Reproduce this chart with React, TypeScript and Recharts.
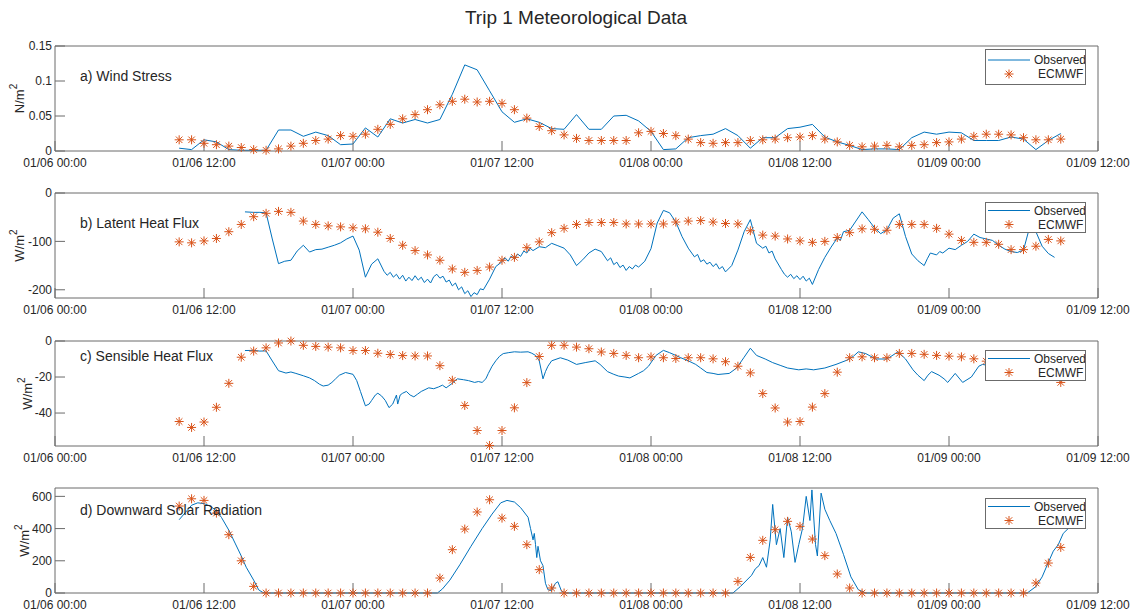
import React from "react";
import { ComposedChart, Line, Scatter, XAxis, YAxis, Legend } from "recharts";

const BLUE = "#0072BD";
const ORANGE = "#D95319";
const AXIS = "#6b6b6b";
const TEXT = "#262626";
const FONT = "'Liberation Sans', Arial, Helvetica, sans-serif";

const xTicks = [0, 12, 24, 36, 48, 60, 72, 84];
const xTickLabels = [
  "01/06 00:00",
  "01/06 12:00",
  "01/07 00:00",
  "01/07 12:00",
  "01/08 00:00",
  "01/08 12:00",
  "01/09 00:00",
  "01/09 12:00",
];

// ECMWF values are hourly, first one at 01/06 10:00 (hour 10)
const ecmwfStart = 10;
const ecmwfWindStress = [
  0.016, 0.016, 0.011, 0.009, 0.007, 0.005, 0.002, 0.001, 0.003, 0.007, 0.011, 0.015,
  0.017, 0.022, 0.021, 0.024, 0.031, 0.038, 0.046, 0.052, 0.059, 0.066, 0.071, 0.074,
  0.07, 0.071, 0.068, 0.059, 0.047, 0.035, 0.029, 0.023, 0.018, 0.015, 0.015, 0.015,
  0.015, 0.026, 0.028, 0.025, 0.022, 0.017, 0.012, 0.011, 0.012, 0.012, 0.015, 0.016,
  0.017, 0.019, 0.02, 0.022, 0.017, 0.013, 0.008, 0.006, 0.007, 0.008, 0.006, 0.008,
  0.009, 0.012, 0.013, 0.017, 0.021, 0.024, 0.024, 0.023, 0.019, 0.016, 0.016, 0.017,
];
const ecmwfLatent = [
  -101, -103, -99, -94, -80, -65, -49, -42, -38, -40, -58, -65, -68, -70, -72, -74, -81,
  -94, -108, -119, -128, -139, -157, -164, -160, -153, -139, -133, -113, -101, -82, -73,
  -65, -61, -61, -61, -64, -64, -64, -64, -60, -58, -57, -60, -63, -64, -78, -87, -89,
  -95, -99, -102, -100, -92, -82, -74, -75, -77, -65, -65, -65, -73, -85, -98, -102,
  -102, -106, -117, -117, -110, -96, -99,
];
const ecmwfSensible = [
  -44.7, -48, -45, -36.8, -23.5, -9, -5.6, -3.8, -1.1, 0, -2.4, -3, -3.4, -3.8, -5.3,
  -5.3, -6.8, -7.5, -8.1, -8.3, -8.3, -13.7, -21.8, -35.8, -49.7, -58, -49.7, -37.1,
  -23.1, -8.6, -2.4, -2.4, -3.4, -4.3, -6.1, -6.9, -8, -9.3, -8.8, -9.3, -9.7, -9.3,
  -9.3, -9.9, -11.5, -14, -17.7, -29.2, -37.2, -45, -44.7, -36.7, -29.2, -17.3, -9.3,
  -8.8, -9.3, -9.3, -6.9, -6.9, -7.4, -8, -8.4, -8.8, -9.9, -11.2, -12, -13, -15, -17,
  -19, -23,
];
const ecmwfSolar = [
  540, 585, 575, 496, 362, 200, 41, 0, 0, 0, 0, 0, 0, 0, 0, 0, 0, 0, 0, 0, 0, 93, 269,
  397, 503, 579, 465, 414, 300, 145, 31, 0, 0, 0, 0, 0, 0, 0, 0, 0, 0, 0, 0, 0, 0, 72,
  221, 327, 393, 445, 414, 335, 232, 118, 31, 0, 0, 0, 0, 0, 0, 0, 0, 0, 0, 0, 0, 0, 0,
  62, 186, 283,
];

// observed wind stress, hourly from hour 10
const obsWindStress = [
  0.004, 0.002, 0.016, 0.013, 0.002, 0.001, 0.001, 0.001, 0.03, 0.03, 0.021, 0.027,
  0.022, 0.009, 0.01, 0.033, 0.02, 0.046, 0.04, 0.045, 0.04, 0.045, 0.081, 0.123, 0.116,
  0.086, 0.056, 0.041, 0.046, 0.041, 0.032, 0.031, 0.052, 0.031, 0.031, 0.05, 0.051,
  0.043, 0.028, 0.002, 0.003, 0.019, 0.022, 0.024, 0.032, 0.022, 0.004, 0.019, 0.019,
  0.032, 0.034, 0.038, 0.02, 0.013, 0.008, 0.002, 0.003, 0.003, 0.002, 0.019, 0.027,
  0.024, 0.027, 0.026, 0.015, 0.015, 0.015, 0.02, 0.017, 0.002, 0.015, 0.025,
];

// observed fluxes as [hour, value]
const obsLatent: [number, number][] = [
  [15.3, -39], [16, -40], [16.5, -40], [17, -41], [17.5, -95], [18, -146], [18.5, -141],
  [19, -139], [19.5, -120], [20, -108], [20.5, -122], [21, -117], [21.5, -116], [22, -112],
  [22.5, -108], [23, -103], [23.5, -95], [24, -89], [24.5, -118], [25, -174], [25.5, -147],
  [26, -136], [26.5, -162], [26.75, -170], [27, -164], [27.25, -174], [27.5, -168],
  [27.75, -178], [28, -170], [28.25, -182], [28.5, -174], [28.75, -181], [29, -171],
  [29.25, -180], [29.5, -174], [29.75, -185], [30, -178], [30.25, -186], [30.5, -173],
  [30.75, -168], [31, -176], [31.25, -172], [31.5, -184], [31.75, -180], [32, -192],
  [32.25, -186], [32.5, -200], [32.75, -194], [33, -208], [33.25, -202], [33.5, -214],
  [33.75, -206], [34, -210], [34.25, -198], [34.5, -200], [35, -178], [35.5, -152],
  [36, -142], [36.25, -134], [36.5, -141], [36.75, -130], [37, -137], [37.25, -126],
  [37.5, -131], [37.75, -120], [38, -124], [38.25, -114], [38.5, -119], [39, -111],
  [39.5, -113], [40, -104], [40.5, -109], [41, -114], [41.5, -128], [42, -150],
  [42.5, -138], [43, -124], [43.5, -116], [44, -121], [44.5, -140], [44.75, -134],
  [45, -148], [45.25, -143], [45.5, -154], [45.75, -149], [46, -160], [46.25, -152],
  [46.5, -157], [46.75, -149], [47, -153], [47.5, -141], [48, -115], [48.5, -62],
  [49, -36], [49.5, -41], [50, -60], [50.5, -90], [51, -114], [51.5, -132], [51.75, -127],
  [52, -142], [52.25, -138], [52.5, -147], [52.75, -143], [53, -152], [53.25, -146],
  [53.5, -157], [53.75, -152], [54, -163], [54.5, -150], [55, -118], [55.5, -80],
  [56, -55], [56.5, -104], [57, -114], [57.25, -110], [57.5, -124], [57.75, -120],
  [58, -136], [58.5, -158], [58.75, -168], [59, -174], [59.25, -168], [59.5, -177],
  [59.75, -171], [60, -179], [60.25, -172], [60.5, -182], [60.75, -176], [61, -189],
  [61.5, -158], [62, -133], [62.5, -112], [63, -93], [63.25, -98], [63.5, -80],
  [64, -77], [64.5, -58], [65, -39], [65.5, -55], [66, -72], [66.5, -84], [67, -76],
  [67.5, -52], [68, -43], [68.5, -90], [69, -126], [69.5, -140], [70, -150], [70.25, -136],
  [70.5, -124], [71, -128], [71.25, -121], [71.5, -124], [72, -114], [72.5, -117],
  [73, -108], [73.5, -100], [74, -85], [74.5, -92], [75, -95], [75.5, -98], [76, -108],
  [76.5, -116], [77, -121], [77.5, -123], [78, -118], [78.5, -70], [79, -80],
  [79.5, -110], [80, -125], [80.5, -133],
];

const obsSensible: [number, number][] = [
  [15.3, -5.3], [16, -5.2], [16.5, -5.6], [17, -5.5], [17.4, -10], [18, -16.5],
  [18.6, -17.8], [19, -17.2], [19.4, -18], [20, -19.3], [20.5, -20.5], [20.9, -22],
  [21.3, -24], [21.6, -25], [22, -24.5], [22.3, -23], [22.6, -21], [22.9, -19],
  [23.4, -17.5], [24, -18.5], [24.3, -22], [24.6, -28], [25, -36], [25.3, -35],
  [25.5, -33], [25.8, -30], [26, -29], [26.3, -30.5], [26.6, -33], [26.9, -37],
  [27.2, -35], [27.5, -30], [27.6, -35], [27.8, -30], [28, -29], [28.3, -28], [28.6, -30],
  [28.9, -31], [29.2, -29.5], [29.5, -28], [29.8, -27], [30.1, -26], [30.5, -26.5],
  [30.9, -25.5], [31.2, -24.5], [31.5, -26], [31.9, -24], [32.4, -21], [32.9, -21.5],
  [33.3, -22], [33.8, -23], [34.1, -22.5], [34.4, -23], [34.7, -21], [34.9, -18],
  [35.2, -14], [35.5, -11], [35.8, -8.5], [36.1, -7], [36.5, -6.5], [37, -6], [37.5, -6.2],
  [38.1, -6], [38.4, -6.8], [38.7, -8], [39, -11], [39.3, -21], [39.5, -17], [39.7, -14],
  [40, -11], [40.7, -9.3], [41.3, -10.6], [42, -13], [42.7, -12], [43.5, -11], [43.9, -13],
  [44.5, -17], [45, -18.5], [45.4, -19.5], [45.9, -20], [46.3, -20.5], [47, -18],
  [47.4, -16.5], [47.8, -14], [48.4, -8], [49, -5.2], [49.5, -6.5], [50, -8], [50.4, -9.3],
  [51, -11], [51.6, -13], [52, -15], [52.5, -17.5], [53, -18], [53.4, -18.6], [54.3, -18],
  [54.9, -15], [55.5, -9], [56, -4], [56.5, -8], [57.2, -10], [57.8, -12], [58.4, -13.5],
  [59, -15], [59.9, -16], [60.5, -15.5], [61.1, -16], [62, -15], [62.9, -13],
  [63.8, -10.6], [64.3, -8.5], [64.7, -6], [65.3, -7], [66.1, -10], [67, -10], [67.9, -6],
  [68.5, -10], [69.1, -16], [69.5, -19], [70, -22], [70.3, -19], [70.6, -17], [71.2, -19],
  [71.6, -21], [71.9, -23], [72.5, -18], [73.1, -23], [73.8, -20], [74.4, -14],
  [74.7, -13], [75.5, -14], [76.5, -15], [77.5, -16], [78.5, -17], [79.5, -17],
  [80.5, -18],
];

const obsSolar: [number, number][] = [
  [10, 455], [10.5, 500], [11, 545], [11.5, 560], [12, 555], [12.5, 540], [13, 510],
  [13.4, 470], [14, 390], [14.5, 310], [15, 230], [15.4, 160], [16, 80], [16.4, 20],
  [16.7, 5], [17, 0], [30.8, 0], [31.2, 25], [31.8, 80], [32.6, 175], [33.5, 290],
  [34.4, 400], [35.2, 490], [35.9, 560], [36.4, 575], [37, 565], [37.5, 530], [38.1, 470],
  [38.3, 400], [38.5, 330], [38.6, 370], [38.7, 300], [38.8, 220], [38.9, 290], [39.1, 200],
  [39.3, 170], [39.5, 60], [39.7, 20], [40, 15], [40.3, 60], [40.5, 70], [40.8, 10],
  [41.2, 0], [54.6, 0], [55.2, 40], [56.1, 110], [56.4, 150], [56.7, 170], [57, 220],
  [57.3, 160], [57.6, 330], [57.8, 550], [58.1, 300], [58.4, 400], [58.7, 220], [59, 470],
  [59.3, 380], [59.6, 190], [59.9, 300], [60.2, 400], [60.5, 600], [60.8, 450],
  [60.96, 640], [61.25, 300], [61.4, 230], [61.7, 620], [62, 520], [62.4, 450],
  [62.9, 370], [63.5, 240], [64.1, 100], [64.7, 20], [65.3, 0], [78.3, 0], [79, 40],
  [79.5, 100], [80, 190], [80.4, 260], [80.8, 300], [81.2, 370], [81.6, 400],
];

const hourly = (vals: number[], start: number) => vals.map((v, i) => ({ t: start + i, v }));
const pairs = (p: [number, number][]) => p.map(([t, v]) => ({ t, v }));

const Asterisk = (props: any) => {
  const { cx, cy } = props;
  if (cx == null || cy == null) return null;
  const r = 4.5;
  const d = r * 0.72;
  return (
    <g stroke={ORANGE} strokeWidth={1} fill="none">
      <line x1={cx - r} y1={cy} x2={cx + r} y2={cy} />
      <line x1={cx} y1={cy - r} x2={cx} y2={cy + r} />
      <line x1={cx - d} y1={cy - d} x2={cx + d} y2={cy + d} />
      <line x1={cx - d} y1={cy + d} x2={cx + d} y2={cy - d} />
    </g>
  );
};

const LegendBox = ({ height }: { height: number }) => (
  <div style={{ width: 101, height, background: "#fff", border: `1px solid ${AXIS}`, boxSizing: "border-box" }}>
    <svg width={99} height={height - 2} style={{ display: "block" }}>
      <line x1={2} x2={44} y1={height / 2 - 8} y2={height / 2 - 8} stroke={BLUE} strokeWidth={1} />
      <text x={48} y={height / 2 - 8} dominantBaseline="central" fontSize={12} fill={TEXT} fontFamily={FONT}>
        Observed
      </text>
      <Asterisk cx={23} cy={height / 2 + 6} />
      <text x={52} y={height / 2 + 6} dominantBaseline="central" fontSize={12} fill={TEXT} fontFamily={FONT}>
        ECMWF
      </text>
    </svg>
  </div>
);

type PanelDef = {
  top: number;
  title: string;
  titleY: number;
  unit: string;
  unitX: number;
  domain: [number, number];
  ticks: number[];
  legendTop: number;
  legendH: number;
  obs: { t: number; v: number }[];
  ecm: { t: number; v: number }[];
};

const panels: PanelDef[] = [
  {
    top: 46, title: "a) Wind Stress", titleY: 76, unit: "N/m", unitX: 19,
    domain: [0, 0.15], ticks: [0, 0.05, 0.1, 0.15], legendTop: 49, legendH: 36,
    obs: hourly(obsWindStress, ecmwfStart), ecm: hourly(ecmwfWindStress, ecmwfStart),
  },
  {
    top: 193, title: "b) Latent Heat Flux", titleY: 223, unit: "W/m", unitX: 19,
    domain: [-217, 0], ticks: [-200, -100, 0], legendTop: 202, legendH: 31,
    obs: pairs(obsLatent), ecm: hourly(ecmwfLatent, ecmwfStart),
  },
  {
    top: 341, title: "c) Sensible Heat Flux", titleY: 356, unit: "W/m", unitX: 27,
    domain: [-58.3, 0], ticks: [-40, -20, 0], legendTop: 350, legendH: 31,
    obs: pairs(obsSensible), ecm: hourly(ecmwfSensible, ecmwfStart),
  },
  {
    top: 488, title: "d) Downward Solar Radiation", titleY: 510, unit: "W/m", unitX: 24,
    domain: [0, 652], ticks: [0, 200, 400, 600], legendTop: 498, legendH: 31,
    obs: pairs(obsSolar), ecm: hourly(ecmwfSolar, ecmwfStart),
  },
];

const tickStyle = { fontSize: 12, fill: TEXT, fontFamily: FONT };

function Panel({ p }: { p: PanelDef }) {
  const chartTop = p.top - 10;
  return (
    <div style={{ position: "absolute", left: 0, top: chartTop, width: 1137, height: 150 }}>
      <ComposedChart width={1137} height={150} margin={{ top: 9, right: 38, bottom: 0, left: 0 }}>
        <XAxis
          xAxisId="x"
          dataKey="t"
          type="number"
          domain={[0, 84]}
          ticks={xTicks}
          interval={0}
          tickFormatter={(v: number) => xTickLabels[xTicks.indexOf(v)]}
          height={35}
          tickSize={-10}
          tickMargin={17}
          stroke={AXIS}
          tick={tickStyle}
        />
        <XAxis
          xAxisId="top"
          orientation="top"
          dataKey="t"
          type="number"
          domain={[0, 84]}
          ticks={xTicks}
          interval={0}
          allowDataOverflow
          height={1}
          tickSize={-10}
          tick={false}
          stroke={AXIS}
        />
        <YAxis
          yAxisId="y"
          type="number"
          domain={p.domain}
          ticks={p.ticks}
          interval={0}
          width={55}
          tickSize={-10}
          tickMargin={13}
          stroke={AXIS}
          tick={tickStyle}
          label={{
            content: () => (
              <text
                transform={`translate(${p.unitX}, 62.5) rotate(-90)`}
                textAnchor="middle"
                dominantBaseline="central"
                fontSize={13}
                fill={TEXT}
                fontFamily={FONT}
              >
                {p.unit}
                <tspan fontSize={10} dy={-6}>2</tspan>
              </text>
            ),
          }}
        />
        <YAxis
          yAxisId="r"
          orientation="right"
          type="number"
          domain={p.domain}
          ticks={p.ticks}
          interval={0}
          allowDataOverflow
          width={1}
          tickSize={-10}
          tick={false}
          stroke={AXIS}
        />
        <Line
          xAxisId="x"
          yAxisId="y"
          data={p.obs}
          dataKey="v"
          name="Observed"
          type="linear"
          stroke={BLUE}
          strokeWidth={1}
          dot={false}
          isAnimationActive={false}
        />
        <Scatter
          xAxisId="x"
          yAxisId="y"
          data={p.ecm}
          dataKey="v"
          name="ECMWF"
          shape={Asterisk}
          isAnimationActive={false}
        />
        <Legend
          layout="horizontal"
          verticalAlign="middle"
          align="center"
          wrapperStyle={{ left: 985, top: p.legendTop - chartTop, width: 101, height: p.legendH }}
          content={() => <LegendBox height={p.legendH} />}
        />
      </ComposedChart>
      <div
        style={{
          position: "absolute",
          left: 80,
          top: p.titleY - chartTop - 8,
          fontSize: 14,
          lineHeight: "16px",
          color: TEXT,
          fontFamily: FONT,
          whiteSpace: "nowrap",
        }}
      >
        {p.title}
      </div>
    </div>
  );
}

export default function App() {
  return (
    <div style={{ position: "absolute", left: 0, top: 0, width: 1137, height: 613, background: "#fff", fontFamily: FONT }}>
      <div
        style={{
          position: "absolute",
          left: 0,
          width: 1152,
          top: 7,
          textAlign: "center",
          fontSize: 19,
          lineHeight: "22px",
          color: TEXT,
        }}
      >
        Trip 1 Meteorological Data
      </div>
      {panels.map((p) => (
        <Panel key={p.title} p={p} />
      ))}
    </div>
  );
}
